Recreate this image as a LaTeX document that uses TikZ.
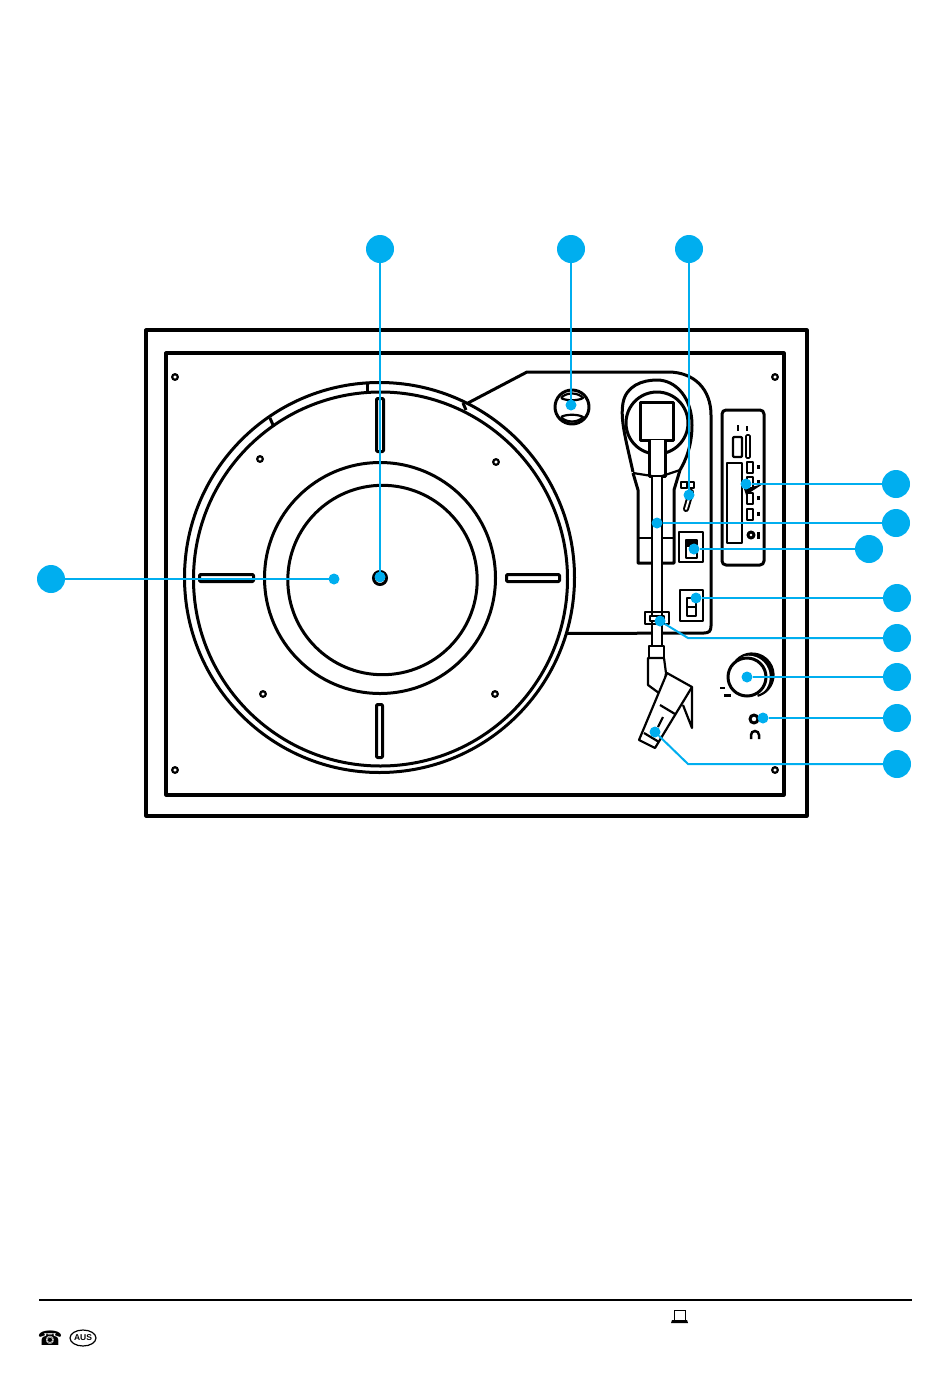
\documentclass[tikz,border=0pt]{standalone}
\usepackage{fontspec}
\setmainfont{Liberation Sans}
\newfontfamily\symbolfont{DejaVu Sans}
\usetikzlibrary{positioning}
\usetikzlibrary{shapes.geometric}
\definecolor{callblue}{RGB}{0, 174, 239}
\tikzset{
  callout/.style = {shape=circle, fill=callblue, minimum size=28pt, inner sep=0pt, outer sep=0pt},
  tip/.style     = {shape=circle, fill=callblue, minimum size=11pt, inner sep=0pt, outer sep=0pt},
  leader/.style  = {draw=callblue, line width=2pt},
  frame/.style   = {line width=3.2pt, line join=round},
  part/.style    = {line width=3pt, line join=round},
  detail/.style  = {line width=2.2pt, line join=round},
  fine/.style    = {line width=1.7pt, line join=round},
  screw/.style   = {line width=2.2pt}
}

\begin{document}
\begin{tikzpicture}[x=1pt, y=-1pt]
  \useasboundingbox (0,0) rectangle (950,1374);

  % case
  \draw [frame] (146,330) rectangle (807,816);
  \draw [frame] (166,353) rectangle (784,795);
  \foreach \sx/\sy in {175/377, 775/377, 175/770, 775/770, 260/459, 496/462, 263/694, 495/694}
    \draw [screw] (\sx,\sy) circle (2.8);

  % platter
  \draw [part] (379.5,577.5) circle (195);
  \draw [part] (380.5,579) circle (187);
  \draw [part] (380,578) circle (115.5);
  \draw [part] (382.5,580) circle (94.7);
  \draw [line width=3pt] (380,578) circle (6.5);
  \draw [part, rounded corners=1pt] (376.5,398.5) rectangle (383.5,451.5);
  \draw [part, rounded corners=1pt] (376.5,704.5) rectangle (382.5,757.5);
  \draw [part, rounded corners=1pt] (199.5,574.5) rectangle (253.5,581.5);
  \draw [part, rounded corners=1pt] (506.5,574.5) rectangle (559.5,581.5);
  \draw [part] (367,383) -- (367,391);
  \draw [part] (270,418) -- (273,425);

  % top plate
  \draw [part] (468,403) -- (527,372) -- (668,372) .. controls (695,372) and (711,390) .. (711,415) -- (711,626)
    .. controls (711,631) and (709,633) .. (704,633) -- (565,633.5);
  \draw [part] (463,403) -- (466,410);

  % speed knob
  \draw [part] (572,407) circle (17);
  \draw [detail] (561,398) .. controls (566,392) and (578,392) .. (583,398) .. controls (578,401) and (566,401) .. (561,398);
  \draw [detail] (561,417) .. controls (566,423) and (578,423) .. (583,417) .. controls (578,414) and (566,414) .. (561,417);

  % arm base
  \draw [part, fill=white] (633,472) .. controls (626,440) and (620,420) .. (623,403)
    .. controls (626,386) and (642,380) .. (657,380)
    .. controls (676,380) and (692,398) .. (692,425)
    .. controls (692,445) and (686,460) .. (680,470);
  \draw [part] (657,423) circle (31);
  \draw [part, fill=white] (640,402) rectangle (673,440);
  \draw [part, fill=white] (649,440) -- (649,476) -- (665,476) -- (665,440);
  \draw [part] (633,473) -- (638,490) -- (638,563) -- (674,563) -- (674,490) -- (680,470);
  \draw [detail] (633,473) -- (652,476);
  \draw [detail] (662,476) -- (680,470);
  \draw [detail] (638,538) -- (674,538);

  % cue lever
  \draw [fine] (681,482) rectangle (687,488);
  \draw [fine] (688,482) rectangle (694,488);
  \draw [line width=6pt, line cap=round] (691,492) -- (686,509);
  \draw [line width=2pt, line cap=round, white] (691,492) -- (686,509);

  % switches
  \draw [detail] (679,532) rectangle (703,562);
  \draw [detail] (686,540) rectangle (697,558);
  \fill (686,540) rectangle (697,547);
  \draw [detail] (680,590) rectangle (703,621);
  \draw [detail] (687,598) rectangle (696,616);
  \draw [detail] (687,607) -- (696,607);

  % tone arm
  \draw [detail, fill=white] (652,476) rectangle (662,646);
  \draw [detail] (645,612) rectangle (669,624);
  \draw [fine, fill=white] (650,616) rectangle (664,621);

  % head shell
  \draw [detail, fill=white] (649,646) rectangle (664,658);
  \draw [detail, fill=white] (648,658) -- (648,685) -- (663,696) -- (666,673) -- (664,658) -- cycle;
  \draw [detail, fill=white] (692,687) -- (692,728) -- (683,705);
  \draw [detail, fill=white] (667,673) -- (692,687) -- (655,748) -- (639,740) -- cycle;
  \draw [detail] (660,705) -- (675,714);
  \draw [detail] (644,733) -- (659,742);
  \draw [detail] (663,717) -- (658,727);

  % volume knob
  \fill (752,675) -- (752,675) ++(-138:21.5) arc [start angle=-138, end angle=75, radius=21.5] -- cycle;
  \fill [white] (748.5,677) circle (21.3);
  \draw [detail] (752,675) ++(-138:21.5) arc [start angle=-138, end angle=75, radius=21.5];
  \draw [part, fill=white] (747,677) circle (19);
  \draw [detail] (720,688) -- (725,688);
  \draw [line width=3pt] (724,695) -- (731,695);

  % headphone socket
  \draw [part] (754,719) circle (4);
  \draw [line width=2.5pt] (751,739) -- (751,735) arc [start angle=180, end angle=360, radius=4] -- (759,739);

  % side panel
  \draw [part, rounded corners=4pt] (722,410) rectangle (764,565);
  \draw [detail] (727,463) rectangle (742,543);
  \draw [detail, rounded corners=1pt] (733,437) rectangle (742,457);
  \draw [fine, rounded corners=1pt] (746,435) rectangle (750,458);
  \draw [line width=2.5pt] (738,425) -- (738,431);
  \draw [line width=2.5pt] (747,426) -- (747,431);
  \foreach \py in {462, 477, 493, 509} {
    \draw [fine] (747,\py) rectangle (753,\py+11);
    \fill (757,\py+3) rectangle (760,\py+7);
  }
  \draw [part] (751,535) circle (3);
  \fill (757,532) rectangle (760,539);
  \fill (744,489) -- (763,484) -- (746,495) -- cycle;

  % callouts
  \node [callout] (c1) at (380,249) {};
  \node [callout] (c2) [right=163pt of c1] {};
  \node [callout] (c3) [right=90pt of c2] {};
  \node [callout] (c4) at (51,579) {};
  \node [callout] (c5) at (896,484) {};
  \node [callout] (c6) [below=11pt of c5] {};
  \node [callout] (c7) at (869,549) {};
  \node [callout] (c8) at (897,598) {};
  \node [callout] (c9) [below=12pt of c8] {};
  \node [callout] (c10) [below=11pt of c9] {};
  \node [callout] (c11) [below=13pt of c10] {};
  \node [callout] (c12) [below=18pt of c11] {};

  \node [tip] (d1) at (380,577) {};
  \node [tip] (d2) at (571,405) {};
  \node [tip] (d3) at (689,495) {};
  \node [tip] (d4) at (334,579) {};
  \node [tip] (d5) at (746,484) {};
  \node [tip] (d6) at (657,523) {};
  \node [tip] (d7) at (694,549) {};
  \node [tip] (d8) at (696,598) {};
  \node [tip] (d9) at (660,621) {};
  \node [tip] (d10) at (747,677) {};
  \node [tip] (d11) at (763,718) {};
  \node [tip] (d12) at (655,732) {};
  \coordinate (e9) at (688,638);
  \coordinate (e12) at (688,764);

  \path [leader] (c1) edge node {} (d1);
  \path [leader] (c2) edge node {} (d2);
  \path [leader] (c3) edge node {} (d3);
  \path [leader] (c4) edge node {} (d4);
  \path [leader] (c5) edge node {} (d5);
  \path [leader] (c6) edge node {} (d6);
  \path [leader] (c7) edge node {} (d7);
  \path [leader] (c8) edge node {} (d8);
  \draw [leader] (c9) -- (e9) -- (d9);
  \path [leader] (c10) edge node {} (d10);
  \path [leader] (c11) edge node {} (d11);
  \draw [leader] (c12) -- (e12) -- (d12);

  % footer
  \coordinate (ruleleft) at (39,1300);
  \coordinate (ruleright) at (912,1300);
  \draw [line width=2pt] (ruleleft) -- (ruleright);
  \node [inner sep=0pt, font=\symbolfont\bfseries\fontsize{20}{20}\selectfont] (phone) at (50,1338) {☎};
  \node [ellipse, draw, line width=1.2pt, minimum width=26pt, minimum height=16pt, inner sep=0pt,
         font=\bfseries\fontsize{8.5}{9}\selectfont] (aus) at (83,1338) {AUS};
  \draw [line width=1pt] (674,1310) rectangle (685,1320);
  \fill (672,1320) -- (687,1320) -- (688,1323) -- (671,1323) -- cycle;
\end{tikzpicture}
\end{document}
